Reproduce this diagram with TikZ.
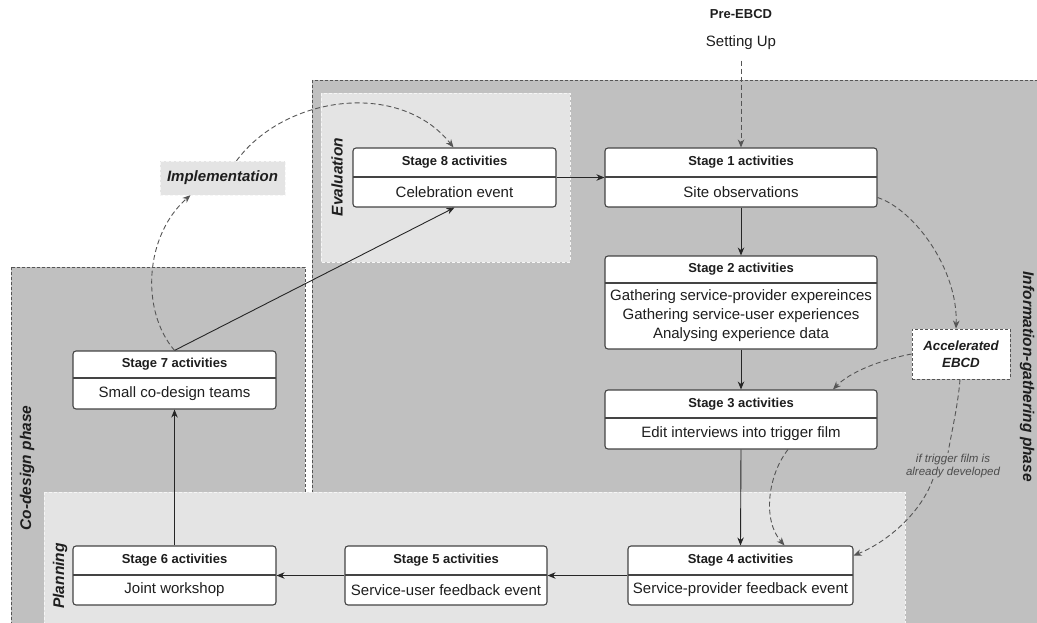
\documentclass[tikz,border=0pt]{standalone}
\usepackage{fontspec}
\setmainfont{Liberation Sans}
\usetikzlibrary{arrows.meta,calc}
\definecolor{darkfill}{HTML}{C0C0C0}
\definecolor{lightfill}{HTML}{E4E4E4}
\definecolor{lightdash}{HTML}{F6F6F6}
\definecolor{regionline}{HTML}{555555}
\definecolor{boxline}{HTML}{444444}
\definecolor{txt}{HTML}{1E1E1E}
\definecolor{dashcol}{HTML}{555555}
\tikzset{
 stagebox/.style={draw=boxline, line width=1.1pt, fill=white, rounded corners=3pt, inner sep=0pt},
 divider/.style={draw=boxline, line width=1.1pt},
 hdr/.style={font=\fontsize{13}{15}\selectfont\bfseries, text=txt, inner sep=0pt},
 bdy/.style={font=\fontsize{15}{19}\selectfont, text=txt, align=center, inner sep=0pt},
 arr/.style={draw=black!85, line width=0.9pt, -{Stealth[length=8pt,width=6.5pt]}},
 darr/.style={draw=dashcol, line width=0.9pt, dash pattern=on 5pt off 3pt, -{Stealth[length=8pt,width=6.5pt]}},
 dline/.style={draw=dashcol, line width=0.9pt, dash pattern=on 5pt off 3pt},
 phase/.style={font=\fontsize{15.5}{18}\selectfont\bfseries\itshape, text=txt, inner sep=0pt},
 darkregion/.style={fill=darkfill, draw=regionline, line width=0.8pt, dash pattern=on 3pt off 2pt},
 lightregion/.style={fill=lightfill, draw=lightdash, line width=0.8pt, dash pattern=on 3pt off 2pt},
}
% #1 name, #2 x1, #3 y1, #4 x2, #5 y divider, #6 y2, #7 header, #8 body
\newcommand{\stg}[8]{%
 \node[stagebox, minimum width={#4-#2}, minimum height={#6-#3}] (#1) at ({(#2+#4)/2},{(#3+#6)/2}) {};
 \draw[divider] ({#2},{#5}) -- ({#4},{#5});
 \node[hdr] (#1h) at ({(#2+#4)/2},{(#3+#5)/2}) {#7};
 \node[bdy] (#1b) at ({(#2+#4)/2},{(#5+#6)/2}) {#8};
}
\begin{document}
\begin{tikzpicture}[x=1pt,y=-1pt]
\useasboundingbox (0,0) rectangle (1037,623);
% regions
\path[darkregion] (312,80) rectangle (1060,650);
\path[darkregion] (11,267) rectangle (305,650);
\path[lightregion] (321,93) rectangle (570,262);
\path[lightregion] (44,492) rectangle (905,650);
% region labels
\node[phase, rotate=90] (evl) at (337,177) {Evaluation};
\node[phase, rotate=90] (cod) at (27,468) {Co-design phase};
\node[phase, rotate=90] (pln) at (60,576) {Planning};
\node[phase, rotate=-90, anchor=east] (inf) at (1027,482) {Information-gathering phase};
% top
\node[font=\fontsize{13}{15}\selectfont\bfseries, text=txt] (pre) at (741,14) {Pre-EBCD};
\node[font=\fontsize{15}{18}\selectfont, text=txt] (setup) at (741,43) {Setting Up};
% stages
\stg{s8}{353}{148}{556}{177}{207}{Stage 8 activities}{Celebration event}
\stg{s1}{605}{148}{877}{177}{207}{Stage 1 activities}{Site observations}
\stg{s2}{605}{256}{877}{283}{349}{Stage 2 activities}{Gathering service-provider expereinces\\Gathering service-user experiences\\Analysing experience data}
\stg{s3}{605}{390}{877}{418}{449}{Stage 3 activities}{Edit interviews into trigger film}
\stg{s4}{628}{546}{853}{575}{605}{Stage 4 activities}{Service-provider feedback event}
\stg{s5}{345}{546}{547}{575}{605}{Stage 5 activities}{Service-user feedback event}
\stg{s6}{73}{546}{276}{575}{605}{Stage 6 activities}{Joint workshop}
\stg{s7}{73}{351}{276}{378}{409}{Stage 7 activities}{Small co-design teams}
% other nodes
\node[draw=dashcol, dash pattern=on 3pt off 2pt, line width=0.9pt, fill=white, minimum width=98, minimum height=50, inner sep=0pt, align=center, font=\fontsize{13.3}{16.7}\selectfont\bfseries\itshape, text=txt] (acc) at (961,354) {Accelerated\\EBCD};
\node[fill=lightfill, draw=lightdash, dash pattern=on 3pt off 2pt, minimum width=125, minimum height=34, inner sep=0pt, font=\fontsize{15}{18}\selectfont\bfseries\itshape, text=txt] (imp) at (222.5,178) {Implementation};
\node[font=\fontsize{11.5}{13}\selectfont\itshape, text=black!70, align=center, inner sep=1pt] (trg) at (953,466) {if trigger film is\\already developed};
% solid connectors
\draw[arr] (s8.east) -- (s1.west);
\draw[arr] (s1.south) -- (s2.north);
\draw[arr] (s2.south) -- (s3.north);
\draw[arr] (s3.south) -- (s4.north);
\draw[arr] (s4.west) -- (s5.east);
\draw[arr] (s5.west) -- (s6.east);
\draw[arr] (s6.north) -- (s7.south);
\draw[arr] (s7.north) -- (s8.south);
% dashed connectors
\draw[darr, shorten <=7pt] (setup.south) -- (s1.north);
\draw[darr] ([yshift=-20pt]s1.east) .. controls (915,210) and (958,270) .. ([xshift=-5pt]acc.north);
\draw[darr] (acc.west) .. controls (880,360) and (850,372) .. ([xshift=92pt]s3.north);
\draw[dline] ([xshift=-1pt]acc.south) .. controls (958,405) and (952,430) .. ([xshift=-5pt]trg.north);
\draw[darr] ([xshift=-20pt]trg.south) .. controls (920,515) and (885,543) .. ([yshift=20pt]s4.east);
\draw[darr] ([xshift=47pt]s3.south) .. controls (768,475) and (762,520) .. ([xshift=44pt]s4.north);
\draw[darr] (s7.north) .. controls (140,310) and (145,235) .. ([xshift=-32pt]imp.south);
\draw[darr] ([xshift=14pt]imp.north) .. controls (285,95) and (400,80) .. ([xshift=-1pt]s8.north);
\end{tikzpicture}
\end{document}
